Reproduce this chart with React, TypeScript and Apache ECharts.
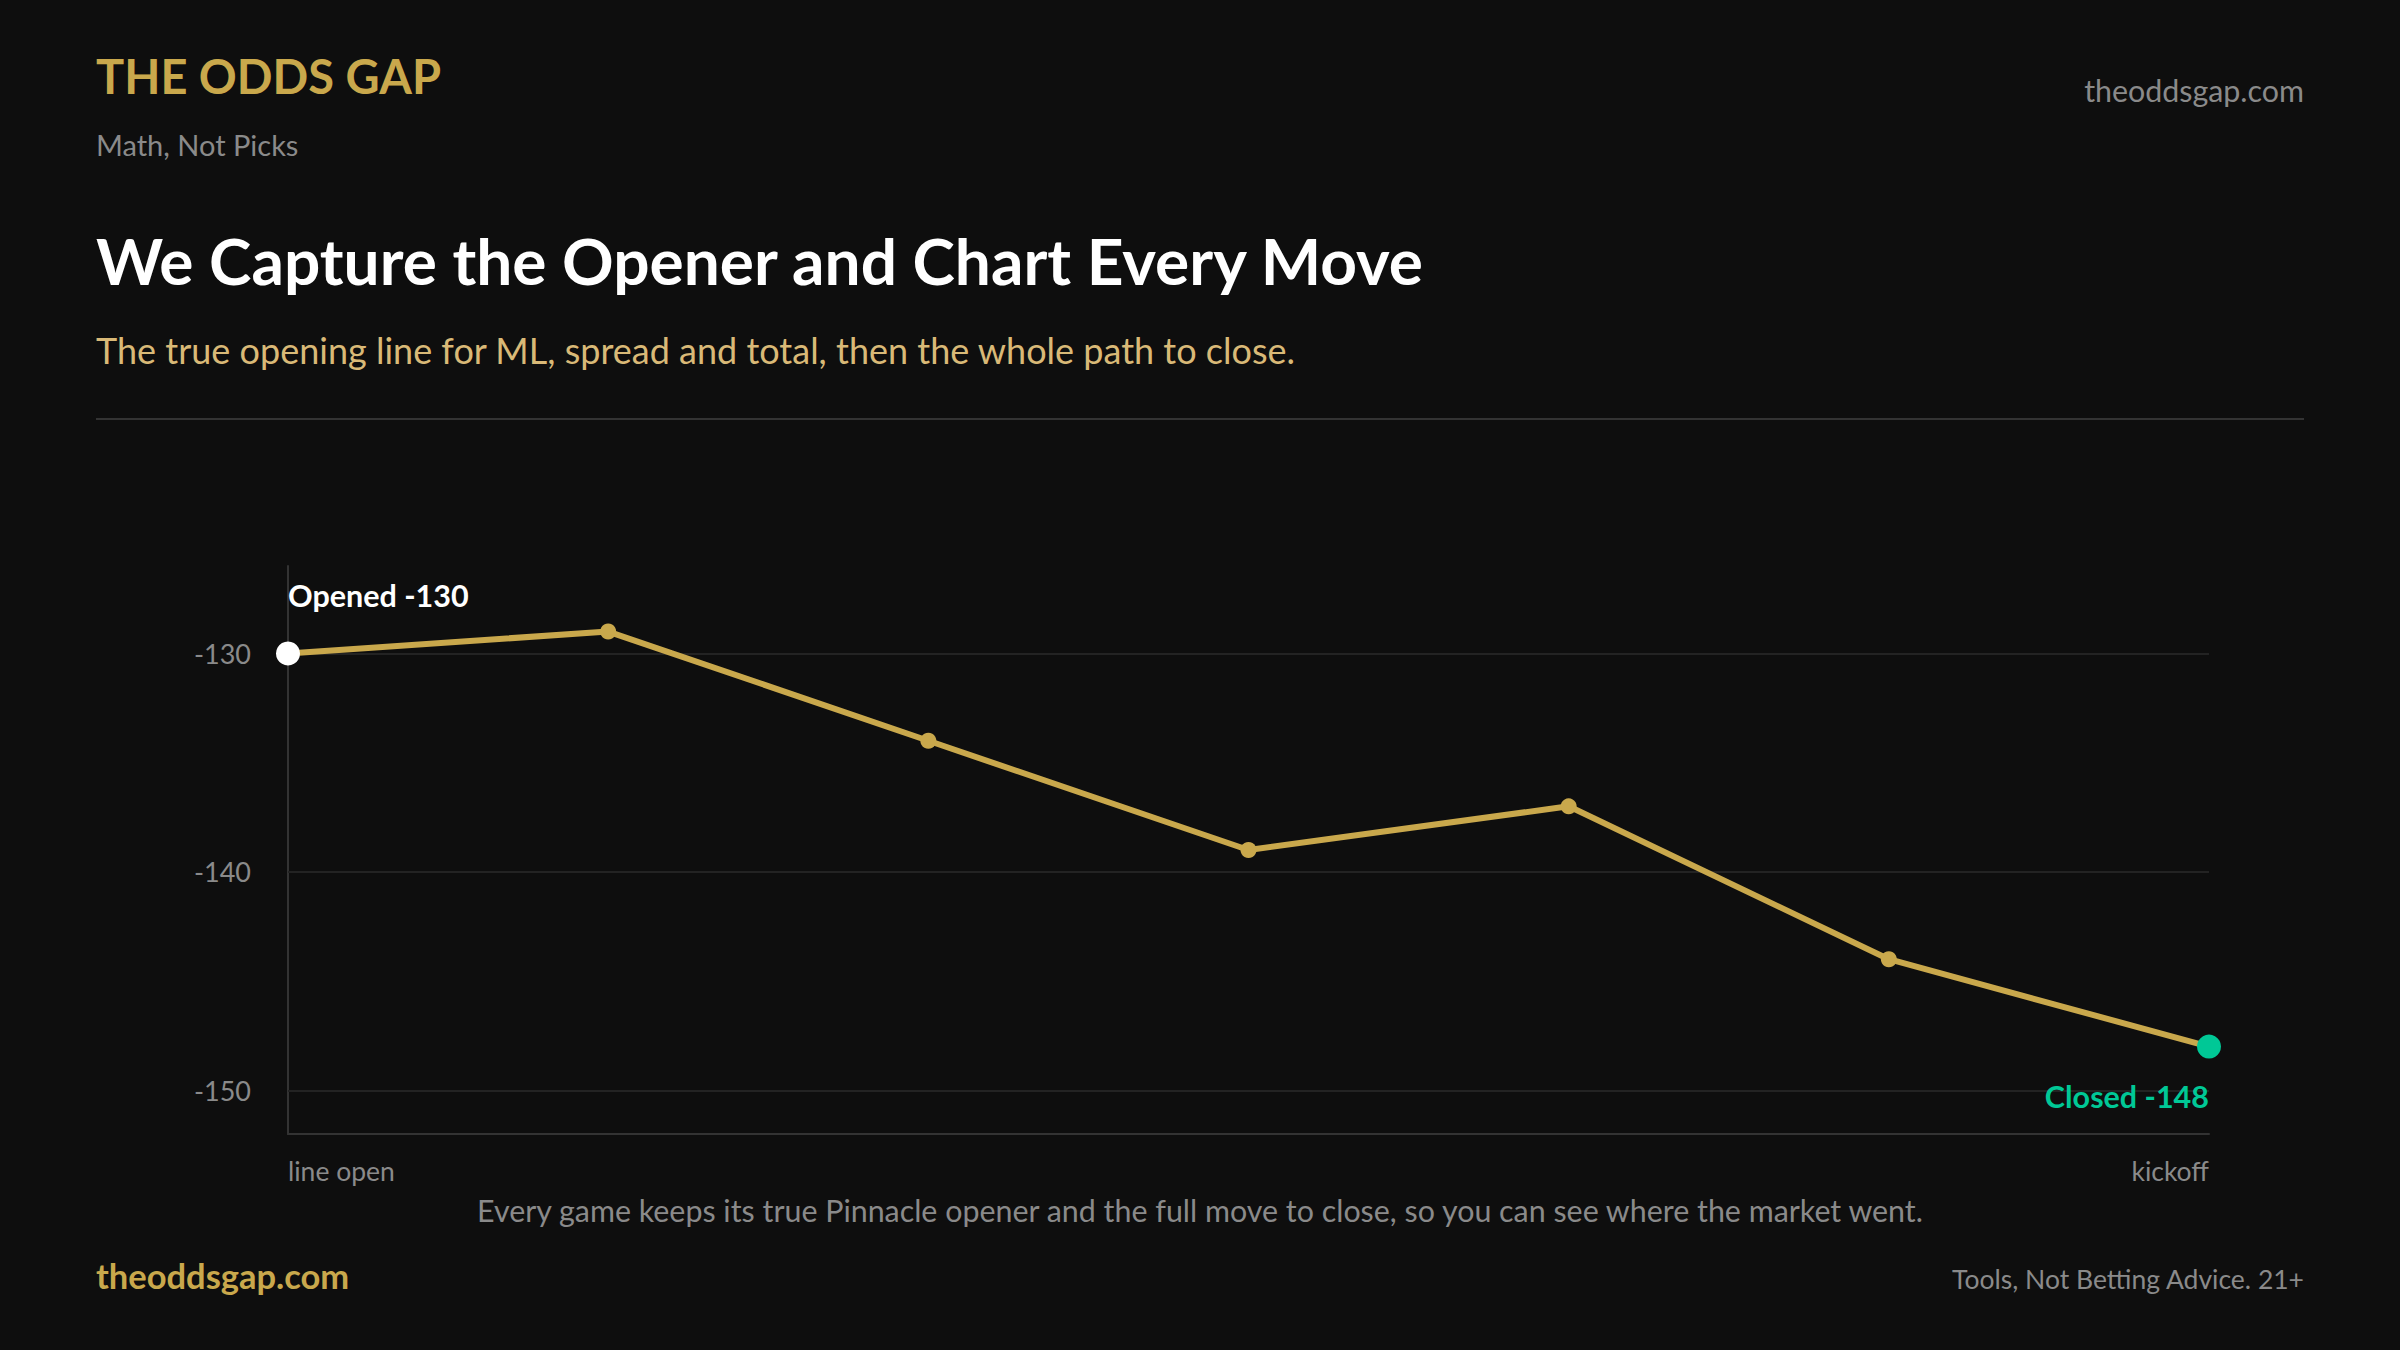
import React, { useEffect, useRef } from "react";
import * as echarts from "echarts";

// Moneyline path from the opening number to kickoff
const categories = ["line open", "", "", "", "", "", "kickoff"];
const prices = [-130, -129, -134, -139, -137, -144, -148];
const gridValues = [-130, -140, -150];

const BRAND = "THE ODDS GAP";
const TAGLINE = "Math, Not Picks";
const SITE = "theoddsgap.com";
const HEADLINE = "We Capture the Opener and Chart Every Move";
const SUBHEAD = "The true opening line for ML, spread and total, then the whole path to close.";
const CAPTION =
  "Every game keeps its true Pinnacle opener and the full move to close, so you can see where the market went.";
const DISCLAIMER = "Tools, Not Betting Advice. 21+";

const GOLD = "#C9A84C";
const TAN = "#D9B977";
const GREY = "#8A8A8A";
const GREEN = "#00C896";
const BG = "#0E0E0E";
const FONT = "Lato, 'Noto Sans', sans-serif";

// vertical-centre offset for Lato: the "central" baseline sits ~0.387em above the alphabetic one
const mid = (baseline: number, size: number) => baseline - 0.387 * size;

export default function App() {
  const ref = useRef<HTMLDivElement>(null);

  useEffect(() => {
    if (!ref.current) return;
    const chart = echarts.init(ref.current, null, { renderer: "svg" });

    const text = (
      t: string,
      x: number,
      baseline: number,
      size: number,
      weight: string,
      fill: string,
      align: string = "left"
    ) => ({
      type: "text",
      x,
      y: mid(baseline, size),
      silent: true,
      style: {
        text: t,
        fill,
        font: `${weight} ${size}px ${FONT}`,
        textAlign: align,
        textVerticalAlign: "middle",
      },
    });

    const last = prices.length - 1;

    chart.setOption({
      animation: false,
      backgroundColor: BG,
      textStyle: { fontFamily: FONT },
      grid: { left: 288, right: 191, top: 566, bottom: 216, containLabel: false },
      xAxis: {
        type: "category",
        data: categories.map((c, i) => ({
          value: c,
          textStyle: { align: i === 0 ? "left" : i === last ? "right" : "center" },
        })),
        boundaryGap: false,
        axisLine: { show: true, lineStyle: { color: "#333333", width: 2 } },
        axisTick: { show: false },
        splitLine: { show: false },
        axisLabel: {
          interval: 0,
          color: GREY,
          fontSize: 26.5,
          fontFamily: FONT,
          margin: 23,
        },
      },
      yAxis: {
        type: "value",
        min: -152,
        max: -126,
        interval: 2,
        axisLine: { show: true, lineStyle: { color: "#333333", width: 2 } },
        axisTick: { show: false },
        splitLine: { show: false },
        axisLabel: {
          color: GREY,
          fontSize: 27,
          fontFamily: FONT,
          margin: 37,
          formatter: (v: number) => (gridValues.includes(v) ? String(v) : ""),
        },
      },
      series: [
        {
          type: "line",
          data: prices.map((v, i) => {
            if (i === 0) {
              return {
                value: v,
                symbolSize: 24,
                itemStyle: { color: "#FFFFFF" },
                label: {
                  show: true,
                  formatter: `Opened ${v}`,
                  position: "top",
                  align: "left",
                  offset: [0, -26],
                  color: "#FFFFFF",
                  fontSize: 30.5,
                  fontWeight: "bold",
                  fontFamily: FONT,
                },
              };
            }
            if (i === last) {
              return {
                value: v,
                symbolSize: 24,
                itemStyle: { color: GREEN },
                label: {
                  show: true,
                  formatter: `Closed ${v}`,
                  position: "bottom",
                  align: "right",
                  offset: [0, 17],
                  color: GREEN,
                  fontSize: 30.5,
                  fontWeight: "bold",
                  fontFamily: FONT,
                },
              };
            }
            return v;
          }),
          symbol: "circle",
          symbolSize: 16,
          showAllSymbol: true,
          lineStyle: { color: GOLD, width: 6 },
          itemStyle: { color: GOLD },
          z: 3,
          markLine: {
            silent: true,
            symbol: "none",
            label: { show: false },
            lineStyle: { color: "#232323", width: 2, type: "solid" },
            data: gridValues.map((g) => ({ yAxis: g })),
            z: 1,
          },
        },
      ],
      graphic: [
        text(BRAND, 96, 94, 47, "bold", GOLD),
        text(TAGLINE, 96, 156, 29, "normal", GREY),
        text(SITE, 2304, 101.7, 30.4, "normal", GREY, "right"),
        text(HEADLINE, 96, 285, 64, "bold", "#FFFFFF"),
        text(SUBHEAD, 96, 364, 36, "normal", TAN),
        {
          type: "rect",
          shape: { x: 96, y: 418, width: 2208, height: 2 },
          style: { fill: "#333333" },
          silent: true,
        },
        text(CAPTION, 1200, 1221.7, 30.4, "normal", GREY, "center"),
        text(SITE, 96, 1289.3, 34.5, "bold", GOLD),
        text(DISCLAIMER, 2304, 1289.3, 26.5, "normal", GREY, "right"),
      ],
    });

    return () => chart.dispose();
  }, []);

  return (
    <div
      ref={ref}
      style={{ position: "fixed", left: 0, top: 0, width: 2400, height: 1350, background: BG }}
    />
  );
}
